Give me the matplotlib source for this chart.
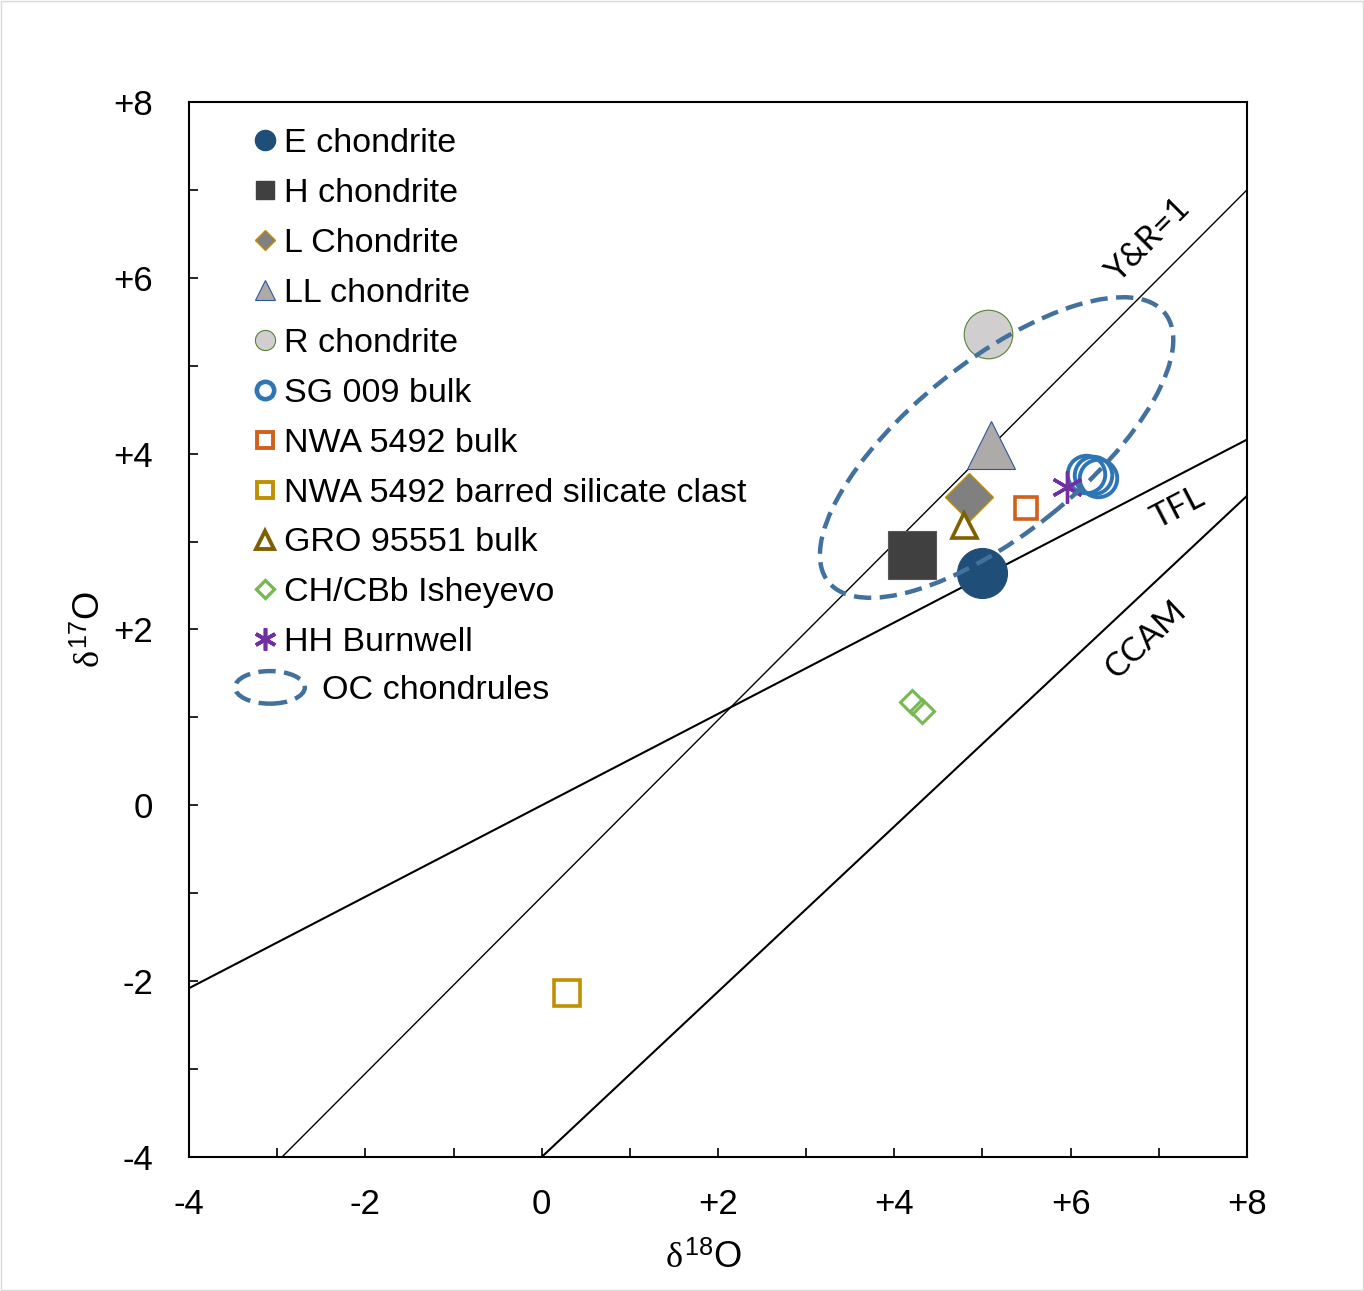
import matplotlib
matplotlib.use("Agg")
import matplotlib.pyplot as plt
from matplotlib.lines import Line2D
from matplotlib.patches import Ellipse, Rectangle
from matplotlib.legend_handler import HandlerPatch

plt.rcParams["font.family"] = ["Liberation Sans", "DejaVu Sans"]
plt.rcParams["mathtext.fontset"] = "custom"
plt.rcParams["mathtext.rm"] = "Liberation Sans"
plt.rcParams["mathtext.it"] = "Liberation Serif"

# ---- oxygen isotope data (permil) ----
e_chondrite_d18O = [4.99]
e_chondrite_d17O = [2.64]
h_chondrite_d18O = [4.20]
h_chondrite_d17O = [2.85]
l_chondrite_d18O = [4.85]
l_chondrite_d17O = [3.51]
ll_chondrite_d18O = [5.10]
ll_chondrite_d17O = [4.10]
r_chondrite_d18O = [5.06]
r_chondrite_d17O = [5.36]
sg009_d18O = [6.17, 6.25, 6.31]
sg009_d17O = [3.77, 3.76, 3.72]
nwa5492_bulk_d18O = [5.49]
nwa5492_bulk_d17O = [3.38]
nwa5492_clast_d18O = [0.29]
nwa5492_clast_d17O = [-2.13]
gro95551_d18O = [4.79]
gro95551_d17O = [3.19]
isheyevo_d18O = [4.20, 4.31]
isheyevo_d17O = [1.18, 1.07]
burnwell_d18O = [5.96]
burnwell_d17O = [3.62]

# OC chondrule field: centre, full axes, tilt (deg)
oc_center = (5.16, 4.07)
oc_width = 4.89
oc_height = 1.96
oc_angle = 38.7

# fractionation / mixing lines: (slope, intercept)
lines_ref = {
    "TFL": (0.52, 0.0),
    "Y&R=1": (1.005, -1.04),
    "CCAM": (0.94, -4.00),
}

x_ticks = [-4, -2, 0, 2, 4, 6, 8]
y_ticks = [-4, -2, 0, 2, 4, 6, 8]
tick_labels = ["-4", "-2", "0", "+2", "+4", "+6", "+8"]

# ---- figure ----
fig = plt.figure(figsize=(13.64, 12.91), dpi=100)
ax = fig.add_axes([0.1386, 0.1038, 0.9142 - 0.1386, 0.921 - 0.1038])
fig.patches.append(Rectangle((0.001, 0.001), 0.998, 0.998, transform=fig.transFigure,
                             fill=False, edgecolor="#d9d9d9", lw=1.0))

ax.set_xlim(-4, 8)
ax.set_ylim(-4, 8)

ax.axline((0, lines_ref["TFL"][1]), slope=lines_ref["TFL"][0], color="black", lw=1.5, zorder=1)
ax.axline((0, lines_ref["Y&R=1"][1]), slope=lines_ref["Y&R=1"][0], color="black", lw=1.0, zorder=1)
ax.axline((0, lines_ref["CCAM"][1]), slope=lines_ref["CCAM"][0], color="black", lw=1.5, zorder=1)

line_font = dict(family=["Lato", "DejaVu Sans"], fontsize=24, ha="center", va="center",
                 rotation_mode="anchor")
ax.text(6.88, 6.42, "Y&R=1", rotation=45, **line_font)
ax.text(7.22, 3.38, "TFL", rotation=27.4, **line_font)
ax.text(6.85, 1.88, "CCAM", rotation=43.2, **line_font)

# sample markers
ax.plot(e_chondrite_d18O, e_chondrite_d17O, ls="none", marker="o", ms=36,
        mfc="#1F4E79", mec="#1F4E79", mew=0.8, zorder=3)
ax.plot(h_chondrite_d18O, h_chondrite_d17O, ls="none", marker="s", ms=35,
        mfc="#404040", mec="#595959", mew=0.8, zorder=3)
ax.plot(l_chondrite_d18O, l_chondrite_d17O, ls="none", marker="D", ms=24,
        mfc="#808080", mec="#BF9000", mew=1.0, zorder=3)
ax.plot(ll_chondrite_d18O, ll_chondrite_d17O, ls="none", marker="^", ms=35,
        mfc="#AEAAAA", mec="#2F5597", mew=0.8, zorder=3)
ax.plot(r_chondrite_d18O, r_chondrite_d17O, ls="none", marker="o", ms=35,
        mfc="#D0CECE", mec="#548235", mew=0.8, zorder=3)
ax.plot(sg009_d18O, sg009_d17O, ls="none", marker="o", ms=27,
        mfc="none", mec="#2E75B6", mew=2.8, zorder=3)
ax.plot(nwa5492_bulk_d18O, nwa5492_bulk_d17O, ls="none", marker="s", ms=16.5,
        mfc="white", mec="#D2601A", mew=2.6, zorder=3)
ax.plot(nwa5492_clast_d18O, nwa5492_clast_d17O, ls="none", marker="s", ms=18.5,
        mfc="white", mec="#BF9000", mew=2.6, zorder=3)
ax.plot(gro95551_d18O, gro95551_d17O, ls="none", marker="^", ms=18,
        mfc="white", mec="#7F6000", mew=2.6, zorder=3)
ax.plot(isheyevo_d18O, isheyevo_d17O, ls="none", marker="D", ms=12,
        mfc="none", mec="#77B852", mew=2.2, zorder=3)
ax.plot(burnwell_d18O, burnwell_d17O, ls="none", marker=(6, 2, 0), ms=23,
        mfc="#7030A0", mec="#7030A0", mew=2.4, zorder=3)

oc_style = dict(fill=False, edgecolor="#41719C", lw=3.2, linestyle=(0, (3.9, 1.9)))
ax.add_patch(Ellipse(oc_center, oc_width, oc_height, angle=oc_angle, zorder=4, **oc_style))

# axes styling
ax.set_xticks(x_ticks)
ax.set_xticklabels(tick_labels)
ax.set_yticks(y_ticks)
ax.set_yticklabels(tick_labels)
ax.set_xticks(range(-4, 9), minor=True)
ax.set_yticks(range(-4, 9), minor=True)
ax.tick_params(which="both", direction="in", length=6.5, width=1.2, labelsize=25,
               top=False, right=False)
ax.tick_params(axis="x", which="major", pad=22)
ax.tick_params(axis="y", which="major", pad=26)
for sp in ax.spines.values():
    sp.set_linewidth(1.5)

ax.set_xlabel(r"$\delta^{18}$O", fontsize=26, labelpad=15, x=0.486)
ax.set_ylabel(r"$\delta^{17}$O", fontsize=26, labelpad=4)

# legend
leg_fs = 24.5
handles = [
    Line2D([], [], ls="none", marker="o", ms=14.5, mfc="#1F4E79", mec="#1F4E79"),
    Line2D([], [], ls="none", marker="s", ms=13.5, mfc="#404040", mec="#404040"),
    Line2D([], [], ls="none", marker="D", ms=10, mfc="#808080", mec="#BF9000", mew=1.0),
    Line2D([], [], ls="none", marker="^", ms=14.5, mfc="#AEAAAA", mec="#2F5597", mew=0.8),
    Line2D([], [], ls="none", marker="o", ms=14.5, mfc="#D0CECE", mec="#548235", mew=0.8),
    Line2D([], [], ls="none", marker="o", ms=12.5, mfc="none", mec="#2E75B6", mew=3.3),
    Line2D([], [], ls="none", marker="s", ms=12, mfc="none", mec="#D2601A", mew=2.8),
    Line2D([], [], ls="none", marker="s", ms=12, mfc="none", mec="#BF9000", mew=2.8),
    Line2D([], [], ls="none", marker="^", ms=12.5, mfc="none", mec="#7F6000", mew=2.8),
    Line2D([], [], ls="none", marker="D", ms=9.5, mfc="none", mec="#77B852", mew=2.4),
    Line2D([], [], ls="none", marker=(6, 2, 0), ms=16, mfc="#7030A0", mec="#7030A0", mew=2.6),
]
labels = ["E chondrite", "H chondrite", "L Chondrite", "LL chondrite", "R chondrite",
          "SG 009 bulk", "NWA 5492 bulk", "NWA 5492 barred silicate clast",
          "GRO 95551 bulk", "CH/CBb Isheyevo", "HH Burnwell"]
leg1 = ax.legend(handles, labels, loc="upper left", bbox_to_anchor=(0.0593, 0.975),
                 frameon=False, fontsize=leg_fs, handlelength=0.8, handletextpad=0.14,
                 borderpad=0, borderaxespad=0, labelspacing=0.555)
ax.add_artist(leg1)


def ellipse_handle(legend, orig_handle, xdescent, ydescent, width, height, fontsize):
    return Ellipse((width / 2 - xdescent, height / 2 - ydescent), width, height * 1.2)


oc_proxy = Ellipse((0, 0), 1, 1, **oc_style)
ax.legend([oc_proxy], ["OC chondrules"], loc="upper left", bbox_to_anchor=(0.0435, 0.458),
          frameon=False, fontsize=leg_fs, handlelength=2.05, handleheight=0.85,
          handletextpad=0.5, borderpad=0, borderaxespad=0,
          handler_map={Ellipse: HandlerPatch(patch_func=ellipse_handle)})

fig.savefig("out.png", dpi=100)
